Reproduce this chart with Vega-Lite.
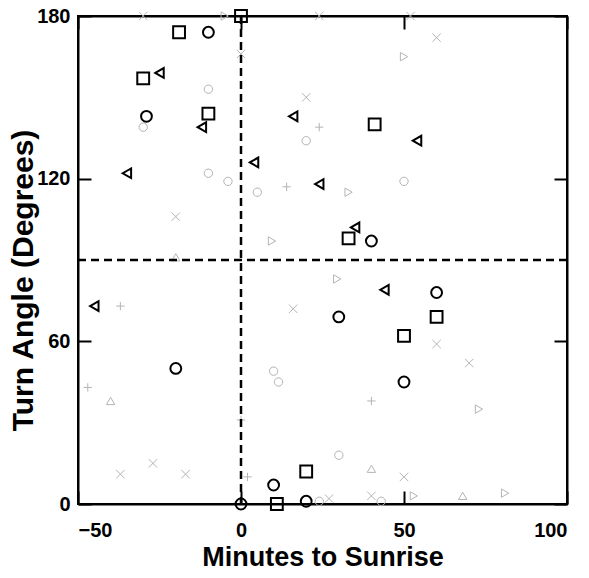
{
  "$schema": "https://vega.github.io/schema/vega-lite/v6.json",
  "autosize": {"type": "none"},
  "padding": {"left": 78, "top": 16, "right": 22, "bottom": 74},
  "width": 489,
  "height": 488,
  "background": "white",
  "config": {
    "view": {"stroke": "black", "strokeWidth": 2},
    "axis": {
      "domainColor": "black", "domainWidth": 2, "tickColor": "black", "tickWidth": 2,
      "grid": false, "labelFont": "Liberation Sans", "labelFontWeight": "bold", "labelFontSize": 20,
      "labelColor": "black", "titleFont": "Liberation Sans", "titleFontWeight": "bold", "titleColor": "black"
    }
  },
  "datasets": {
    "black": [
      {"x": 0, "y": 180, "g": "sq"}, {"x": -19, "y": 174, "g": "sq"}, {"x": -30, "y": 157, "g": "sq"},
      {"x": -10, "y": 144, "g": "sq"}, {"x": 41, "y": 140, "g": "sq"}, {"x": 33, "y": 98, "g": "sq"},
      {"x": 60, "y": 69, "g": "sq"}, {"x": 50, "y": 62, "g": "sq"}, {"x": 20, "y": 12, "g": "sq"},
      {"x": 11, "y": 0, "g": "sq"},
      {"x": -10, "y": 174, "g": "ci"}, {"x": -29, "y": 143, "g": "ci"}, {"x": 40, "y": 97, "g": "ci"},
      {"x": 60, "y": 78, "g": "ci"}, {"x": 30, "y": 69, "g": "ci"}, {"x": -20, "y": 50, "g": "ci"},
      {"x": 50, "y": 45, "g": "ci"}, {"x": 10, "y": 7, "g": "ci"}, {"x": 20, "y": 1, "g": "ci"},
      {"x": 0, "y": 0, "g": "ci"},
      {"x": -25, "y": 159, "g": "tl"}, {"x": -12, "y": 139, "g": "tl"}, {"x": 4, "y": 126, "g": "tl"},
      {"x": -35, "y": 122, "g": "tl"}, {"x": 16, "y": 143, "g": "tl"}, {"x": 54, "y": 134, "g": "tl"},
      {"x": 24, "y": 118, "g": "tl"}, {"x": 35, "y": 102, "g": "tl"}, {"x": 44, "y": 79, "g": "tl"},
      {"x": -45, "y": 73, "g": "tl"}
    ],
    "gray": [
      {"x": -30, "y": 180, "g": "gx"}, {"x": -5, "y": 180, "g": "gr"}, {"x": 0, "y": 166, "g": "gx"},
      {"x": -10, "y": 153, "g": "go"}, {"x": -30, "y": 139, "g": "go"}, {"x": -10, "y": 122, "g": "go"},
      {"x": -4, "y": 119, "g": "go"}, {"x": 24, "y": 180, "g": "gx"}, {"x": 52, "y": 180, "g": "gx"},
      {"x": 50, "y": 165, "g": "gr"}, {"x": 60, "y": 172, "g": "gx"}, {"x": 20, "y": 150, "g": "gx"},
      {"x": 24, "y": 139, "g": "gp"}, {"x": 20, "y": 134, "g": "go"}, {"x": 5, "y": 115, "g": "go"},
      {"x": -20, "y": 106, "g": "gx"}, {"x": -20, "y": 91, "g": "gt"}, {"x": -37, "y": 73, "g": "gp"},
      {"x": 14, "y": 117, "g": "gp"}, {"x": 33, "y": 115, "g": "gr"}, {"x": 50, "y": 119, "g": "go"},
      {"x": 9.5, "y": 97, "g": "gr"}, {"x": 29.5, "y": 83, "g": "gr"}, {"x": 16, "y": 72, "g": "gx"},
      {"x": 60, "y": 59, "g": "gx"}, {"x": -47, "y": 43, "g": "gp"}, {"x": -40, "y": 38, "g": "gt"},
      {"x": -37, "y": 11, "g": "gx"}, {"x": -27, "y": 15, "g": "gx"}, {"x": -17, "y": 11, "g": "gx"},
      {"x": 0, "y": 31, "g": "gp"}, {"x": 2, "y": 10, "g": "gp"}, {"x": 10, "y": 49, "g": "go"},
      {"x": 11.5, "y": 45, "g": "go"}, {"x": 40, "y": 38, "g": "gp"}, {"x": 30, "y": 18, "g": "go"},
      {"x": 40, "y": 13, "g": "gt"}, {"x": 50, "y": 10, "g": "gx"}, {"x": 53, "y": 3, "g": "gr"},
      {"x": 27, "y": 2, "g": "gx"}, {"x": 40, "y": 3, "g": "gx"}, {"x": 43, "y": 1, "g": "go"},
      {"x": 24, "y": 1, "g": "go"}, {"x": 70, "y": 52, "g": "gx"}, {"x": 73, "y": 35, "g": "gr"},
      {"x": 68, "y": 3, "g": "gt"}, {"x": 81, "y": 4, "g": "gr"}
    ],
    "lines": [{"x0": 0, "y0": 90}]
  },
  "resolve": {
    "axis": {"x": "independent", "y": "independent"},
    "scale": {"shape": "independent", "size": "independent"}
  },
  "layer": [
    {
      "data": {"name": "gray"},
      "mark": {"type": "point", "filled": false, "strokeWidth": 1, "opacity": 1},
      "encoding": {
        "x": {"field": "x", "type": "quantitative", "scale": {"domain": [-50, 100], "nice": false, "zero": false},
          "axis": {"orient": "top", "values": [-50, 0, 50, 100], "labels": false, "tickSize": -13, "title": null}},
        "y": {"field": "y", "type": "quantitative", "scale": {"domain": [0, 180], "nice": false, "zero": false},
          "axis": {"orient": "right", "values": [0, 60, 120, 180], "labels": false, "tickSize": -13, "title": null}},
        "shape": {"field": "g", "type": "nominal", "legend": null,
          "scale": {"domain": ["gx", "gp", "gr", "go", "gt"],
            "range": ["M-1,-1L1,1M-1,1L1,-1", "M-1,0L1,0M0,-1L0,1", "triangle-right", "circle", "triangle-up"]}},
        "stroke": {"value": "#b4b4b4"},
        "size": {"value": 70}
      }
    },
    {
      "data": {"name": "lines"},
      "mark": {"type": "rule", "strokeDash": [8, 5], "strokeWidth": 2.5, "color": "black"},
      "encoding": {"x": {"field": "x0", "type": "quantitative", "axis": null}}
    },
    {
      "data": {"name": "lines"},
      "mark": {"type": "rule", "strokeDash": [8, 5], "strokeWidth": 2.5, "color": "black"},
      "encoding": {"y": {"field": "y0", "type": "quantitative", "axis": null}}
    },
    {
      "data": {"name": "black"},
      "mark": {"type": "point", "filled": false, "strokeWidth": 2, "opacity": 1},
      "encoding": {
        "x": {"field": "x", "type": "quantitative",
          "axis": {"orient": "bottom", "values": [-50, 0, 50, 100], "tickSize": -13, "labelPadding": 29,
            "title": "Minutes to Sunrise", "titleFontSize": 27, "titleY": 61, "titleBaseline": "alphabetic"}},
        "y": {"field": "y", "type": "quantitative",
          "axis": {"orient": "left", "values": [0, 60, 120, 180], "tickSize": -13, "labelPadding": 21,
            "title": "Turn Angle (Degrees)", "titleFontSize": 30, "titleX": -46, "titleY": 264, "titleBaseline": "alphabetic"}},
        "shape": {"field": "g", "type": "nominal", "legend": null,
          "scale": {"domain": ["sq", "ci", "tl"], "range": ["square", "circle", "triangle-left"]}},
        "size": {"field": "g", "type": "nominal", "legend": null,
          "scale": {"domain": ["sq", "ci", "tl"], "range": [140, 95, 120]}},
        "stroke": {"value": "black"}
      }
    }
  ]
}
